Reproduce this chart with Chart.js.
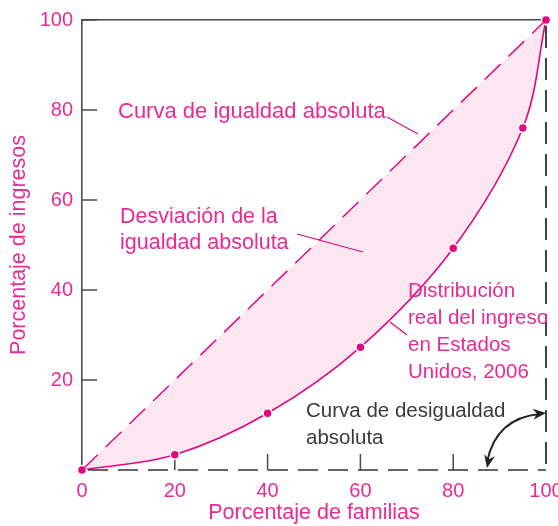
<!DOCTYPE html>
<html lang="es">
<head>
  <meta charset="UTF-8" />
  <title>Curva de Lorenz</title>
  <script src="https://cdn.jsdelivr.net/npm/chart.js"></script>
  <style>
    html, body { margin: 0; padding: 0; background: #fff; }
  </style>
</head>
<body>
  <canvas id="lorenz" width="558" height="526"></canvas>

  <script>
    // datos
    const familias = [0, 20, 40, 60, 80, 95, 100];
    const ingresos = [0, 3.4, 12.6, 27.3, 49.3, 76, 100];
    const igualdadX = [0, 100];
    const igualdadY = [0, 100];
    const xTicks = [0, 20, 40, 60, 80, 100];
    const yTicks = [20, 40, 60, 80, 100];

    const PINK = '#e5067f';
    const PINK_TEXT = '#ea2a93';
    const AXIS = '#4a4a4a';
    const FONT = '"Liberation Sans", Arial, sans-serif';

    const toPoints = (xs, ys) => xs.map((x, i) => ({ x: x, y: ys[i] }));

    function arrowHead(ctx, x, y, ang) {
      ctx.save();
      ctx.translate(x, y);
      ctx.rotate(ang);
      ctx.beginPath();
      ctx.moveTo(0, 0);
      ctx.lineTo(-13, -5.5);
      ctx.lineTo(-9, 0);
      ctx.lineTo(-13, 5.5);
      ctx.closePath();
      ctx.fill();
      ctx.restore();
    }

    const extras = {
      id: 'extras',
      beforeDatasetsDraw(chart) {
        const ctx = chart.ctx;
        const xs = chart.scales.x, ys = chart.scales.y;
        ctx.save();
        ctx.strokeStyle = AXIS;
        ctx.lineWidth = 1.5;
        ctx.beginPath();
        yTicks.forEach(v => {
          const y = ys.getPixelForValue(v);
          ctx.moveTo(xs.left, y);
          ctx.lineTo(xs.left + 15, y);
        });
        xTicks.slice(1, -1).forEach(v => {
          const x = xs.getPixelForValue(v);
          ctx.moveTo(x, ys.bottom);
          ctx.lineTo(x, ys.bottom - 16);
        });
        ctx.stroke();

        // curva de desigualdad absoluta: lineas discontinuas abajo y a la derecha
        ctx.lineWidth = 1.7;
        ctx.strokeStyle = '#333';
        ctx.setLineDash([20, 10]);
        ctx.lineDashOffset = -6;
        ctx.beginPath();
        ctx.moveTo(xs.left, ys.bottom);
        ctx.lineTo(xs.right, ys.bottom);
        ctx.stroke();
        ctx.strokeStyle = '#222';
        ctx.setLineDash([22, 10]);
        ctx.lineDashOffset = -6;
        ctx.beginPath();
        ctx.moveTo(xs.right, ys.top);
        ctx.lineTo(xs.right, ys.bottom);
        ctx.stroke();
        ctx.restore();
      },
      afterDatasetsDraw(chart) {
        const ctx = chart.ctx;
        ctx.save();
        ctx.textBaseline = 'alphabetic';
        ctx.textAlign = 'left';
        ctx.fillStyle = PINK_TEXT;
        ctx.font = '22px ' + FONT;
        ctx.fillText('Curva de igualdad absoluta', 118, 118);
        ctx.font = '21.5px ' + FONT;
        ctx.fillText('Desviación de la', 120, 223);
        ctx.fillText('igualdad absoluta', 120, 249);
        ctx.font = '20.5px ' + FONT;
        ctx.fillText('Distribución', 408, 297);
        ctx.fillText('real del ingreso', 408, 324);
        ctx.fillText('en Estados', 408, 351);
        ctx.fillText('Unidos, 2006', 408, 378);
        ctx.fillStyle = '#3a3a3a';
        ctx.fillText('Curva de desigualdad', 306, 417);
        ctx.fillText('absoluta', 306, 444);

        // lineas guia
        ctx.strokeStyle = PINK;
        ctx.lineWidth = 1.2;
        ctx.beginPath();
        ctx.moveTo(387, 117); ctx.lineTo(418, 134);
        ctx.moveTo(297, 234); ctx.lineTo(363, 252);
        ctx.moveTo(390, 322); ctx.lineTo(407, 335);
        ctx.stroke();

        // flecha curva
        ctx.strokeStyle = '#222';
        ctx.fillStyle = '#222';
        ctx.lineWidth = 2;
        const sx = 540, sy = 414, cx = 496, cy = 418, ex = 487, ey = 462;
        ctx.beginPath();
        ctx.moveTo(sx, sy);
        ctx.quadraticCurveTo(cx, cy, ex, ey);
        ctx.stroke();
        arrowHead(ctx, 546, 413, Math.atan2(sy - cy, sx - cx));
        arrowHead(ctx, 487, 468, Math.atan2(ey - cy, ex - cx));
        ctx.restore();
      }
    };

    const tickFont = { family: FONT, size: 20 };
    const titleFont = { family: FONT, size: 21.5 };

    new Chart(document.getElementById('lorenz'), {
      type: 'scatter',
      data: {
        datasets: [
          {
            label: 'Curva de igualdad absoluta',
            data: toPoints(igualdadX, igualdadY),
            showLine: true,
            borderColor: PINK,
            borderWidth: 1.5,
            borderDash: [22, 11],
            pointRadius: 0,
            fill: false,
            clip: false
          },
          {
            label: 'Distribución real del ingreso en Estados Unidos, 2006',
            data: toPoints(familias, ingresos),
            showLine: true,
            tension: 0.35,
            borderColor: PINK,
            borderWidth: 1.6,
            pointRadius: 4.5,
            pointBackgroundColor: PINK,
            pointBorderColor: '#fff',
            pointBorderWidth: 1.5,
            fill: { target: 0 },
            backgroundColor: 'rgba(245, 180, 212, 0.32)',
            clip: false
          }
        ]
      },
      options: {
        responsive: false,
        animation: false,
        layout: { padding: 0 },
        plugins: {
          legend: { display: false },
          tooltip: { enabled: false },
          filler: { propagate: false }
        },
        scales: {
          x: {
            type: 'linear',
            position: 'bottom',
            min: 0, max: 100,
            afterBuildTicks: s => { s.ticks = xTicks.map(v => ({ value: v })); },
            afterFit: s => { s.height = 56; s.paddingLeft = 0; s.paddingRight = 0; },
            grid: { display: false, drawTicks: false },
            border: { display: false },
            ticks: { color: PINK_TEXT, font: tickFont, padding: 9, maxRotation: 0 },
            title: { display: true, text: 'Porcentaje de familias', color: PINK_TEXT, font: titleFont, padding: 0 }
          },
          xTop: {
            type: 'linear',
            position: 'top',
            min: 0, max: 100,
            afterFit: s => { s.height = 20; s.paddingLeft = 0; s.paddingRight = 0; },
            grid: { display: false, drawTicks: false },
            border: { color: AXIS, width: 1.6 },
            ticks: { display: false }
          },
          y: {
            type: 'linear',
            position: 'left',
            min: 0, max: 100,
            afterBuildTicks: s => { s.ticks = yTicks.map(v => ({ value: v })); },
            afterFit: s => { s.width = 82; s.paddingTop = 0; s.paddingBottom = 0; },
            grid: { display: false, drawTicks: false },
            border: { color: AXIS, width: 1.6 },
            ticks: { color: PINK_TEXT, font: tickFont, padding: 9 },
            title: { display: true, text: 'Porcentaje de ingresos', color: PINK_TEXT, font: titleFont, padding: { top: 6, bottom: 0 } }
          },
          yRight: {
            type: 'linear',
            position: 'right',
            min: 0, max: 100,
            afterFit: s => { s.width = 12; s.paddingTop = 0; s.paddingBottom = 0; },
            grid: { display: false, drawTicks: false },
            border: { display: false },
            ticks: { display: false }
          }
        }
      },
      plugins: [extras]
    });
  </script>
</body>
</html>
